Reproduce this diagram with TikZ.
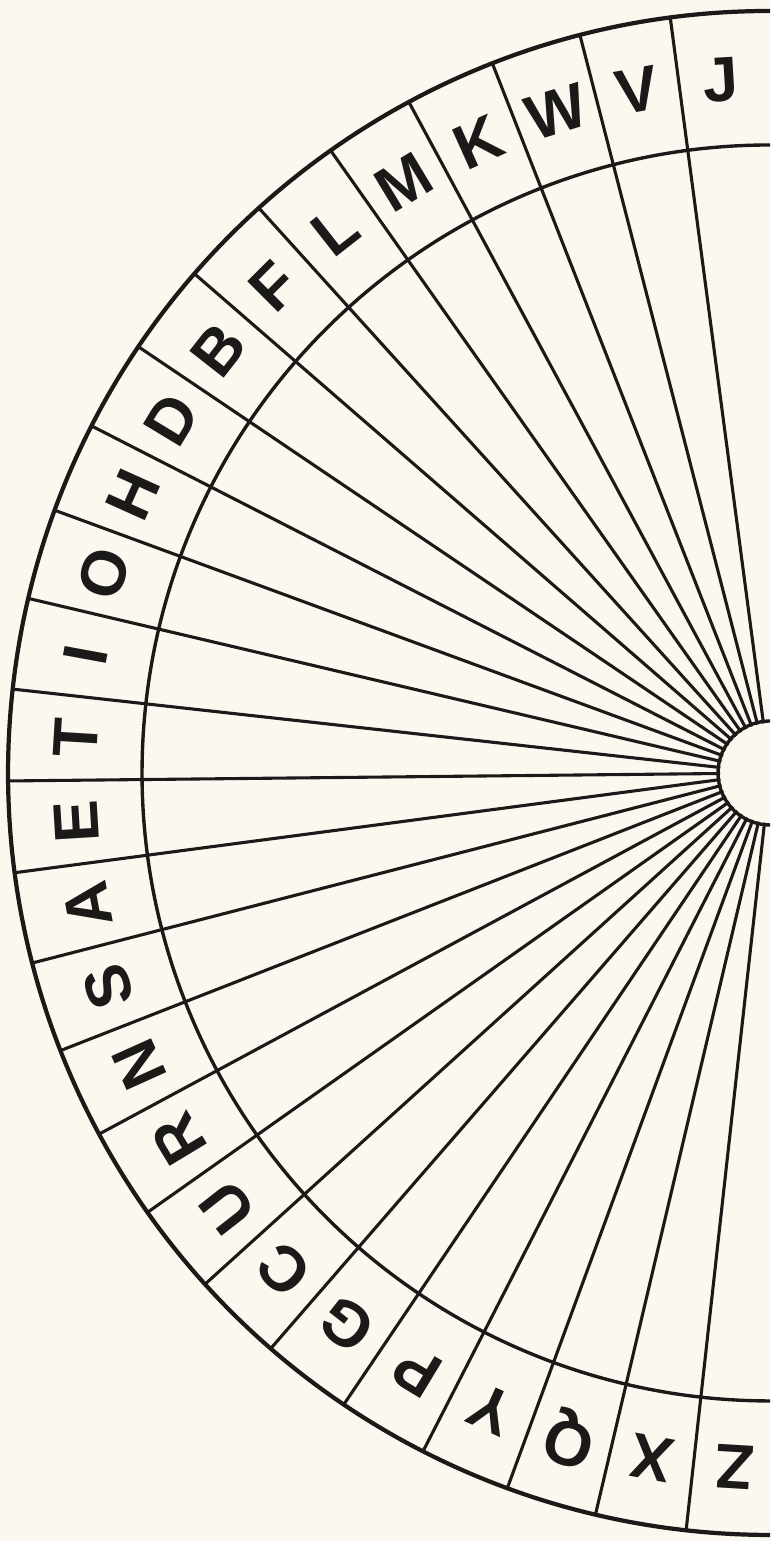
\documentclass[tikz,border=0pt]{standalone}
\usepackage{fontspec}
\setsansfont{Liberation Sans}
\usepackage{tikz}
\definecolor{WheelInk}{HTML}{1C1A18}
\definecolor{WheelPaper}{HTML}{FAF8EF}
\tikzset{
  rim/.style={draw=WheelInk,line width=3pt},
  ring/.style={draw=WheelInk,line width=2.4pt},
  spoke/.style={draw=WheelInk,line width=2.2pt},
  letter/.style={font=\fontsize{45}{45}\selectfont\sffamily\bfseries,text=WheelInk,
    inner sep=0pt,anchor=center}
}
\begin{document}
\begin{tikzpicture}[x=0.25mm,y=0.25mm]
  \fill[WheelPaper] (0,0) rectangle (770,1541);
  \useasboundingbox (0,0) rectangle (770,1541);
  \clip (0,0) rectangle (770,1541);
  \coordinate (hub) at (770,768);

  % wheel turned a little, as printed
  \begin{scope}[shift={(hub)},rotate=0.6]
    \foreach \k in {1,...,25}
      \draw[spoke] ({90+\k*180/26}:50) -- ({90+\k*180/26}:762);
    \draw[rim] (85:762) arc[start angle=85,end angle=275,radius=762];
    \draw[ring] (85:628) arc[start angle=85,end angle=275,radius=628];
    \draw[ring] (0,0) circle[radius=52];
    \foreach \ch [count=\i from 0] in {J,V,W,K,M,L,F,B,D,H,O,I,T,E,A,S,N,R,U,C,G,P,Y,Q,X,Z}{
      \pgfmathsetmacro\ang{90+(\i+0.5)*180/26}
      \node[letter,rotate=\ang-90] (let\i) at (\ang:695) {\ch};
    }
  \end{scope}
\end{tikzpicture}
\end{document}
